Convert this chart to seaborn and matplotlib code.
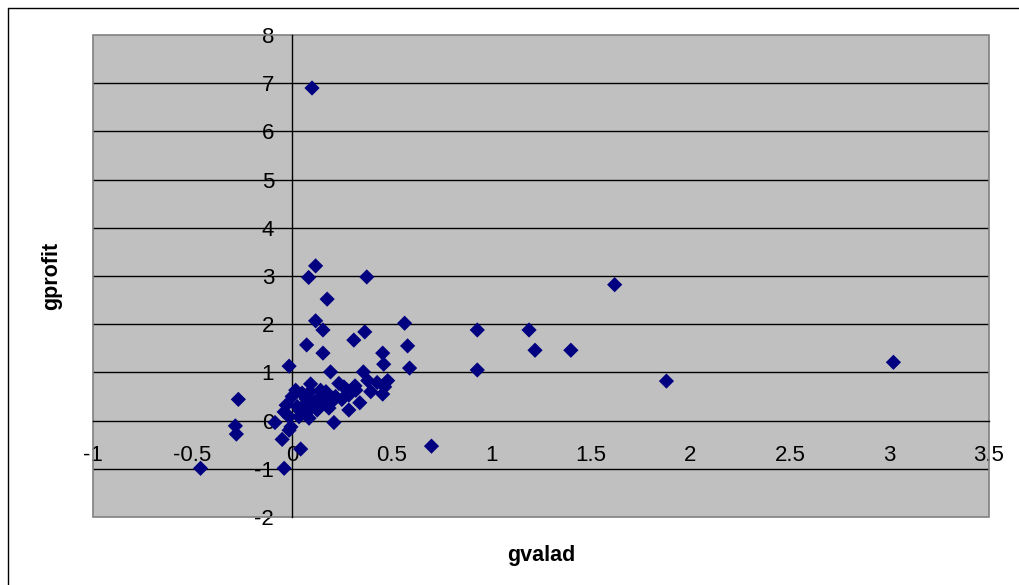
import numpy as np
import pandas as pd
import matplotlib
matplotlib.use("Agg")
import matplotlib.pyplot as plt
from matplotlib.patches import Rectangle
import seaborn as sns

# points (gvalad, gprofit)
gvalad = [
    -0.46, -0.27, -0.285, -0.28, -0.04, -0.015, 0.118, 0.083, 0.176, 0.118,
    0.155, 0.073, 0.155, 0.31, 0.193, 0.043, -0.05, -0.086, -0.015, 0.21,
    0.285, 0.093, 0.10, 0.375, 0.565, 0.365, 0.58, 0.455, 0.46, 0.59,
    0.93, 0.93, 1.19, 1.22, 1.40, 1.62, 1.88, 3.02, 0.70, 0.358,
    0.38, 0.427, 0.48, 0.316, 0.32, 0.395, 0.465, 0.455, 0.34, 0.235,
    0.26, 0.168, 0.218, 0.25, 0.185, 0.126, 0.10, 0.143, 0.05, 0.018,
    0.0, -0.03, -0.04, -0.015, 0.035, 0.076, 0.085, 0.026, 0.06, 0.15,
    0.20, 0.276, 0.285, -0.006, 0.11, 0.13, 0.07, 0.04, 0.17, 0.09,
]
gprofit = [
    -0.99, 0.44, -0.11, -0.28, -0.99, 1.13, 3.21, 2.97, 2.52, 2.07,
    1.88, 1.57, 1.40, 1.67, 1.01, -0.59, -0.39, -0.04, -0.20, -0.04,
    0.22, 0.76, 6.90, 2.98, 2.02, 1.84, 1.55, 1.40, 1.17, 1.09,
    1.88, 1.05, 1.88, 1.46, 1.46, 2.82, 0.82, 1.21, -0.53, 1.01,
    0.83, 0.79, 0.83, 0.72, 0.63, 0.60, 0.70, 0.55, 0.37, 0.77,
    0.70, 0.53, 0.50, 0.44, 0.26, 0.22, 0.39, 0.63, 0.57, 0.63,
    0.50, 0.32, 0.18, 0.08, 0.08, 0.18, 0.05, 0.29, 0.32, 0.39,
    0.39, 0.63, 0.53, -0.13, 0.30, 0.45, 0.45, 0.20, 0.60, 0.60,
]
x_ticks = [-1, -0.5, 0, 0.5, 1, 1.5, 2, 2.5, 3, 3.5]
x_tick_labels = ["-1", "-0.5", "0", "0.5", "1", "1.5", "2", "2.5", "3", "3.5"]
y_ticks = [-2, -1, 0, 1, 2, 3, 4, 5, 6, 7, 8]

df = pd.DataFrame({"gvalad": gvalad, "gprofit": gprofit})

sns.set_style("white")
plt.rcParams["font.family"] = ["Liberation Sans", "DejaVu Sans"]
plt.rcParams["axes.unicode_minus"] = False

fig = plt.figure(figsize=(10.19, 5.85), dpi=100)
ax = fig.add_axes([93 / 1019, 1 - 517 / 585, 896 / 1019, 482 / 585])
ax.set_facecolor("#c0c0c0")

# outer chart border (left and top visible in the crop)
fig.add_artist(plt.Line2D([8 / 1019, 8 / 1019], [0, 1 - 8 / 585], color="black", lw=1))
fig.add_artist(plt.Line2D([8 / 1019, 1], [1 - 8 / 585, 1 - 8 / 585], color="black", lw=1))

for yv in y_ticks:
    if yv not in (-2, 8, 0):
        ax.axhline(yv, color="black", lw=1, zorder=1)

sns.scatterplot(data=df, x="gvalad", y="gprofit", marker="D", color="#000080",
                edgecolor="none", s=60, ax=ax, zorder=3)

ax.set_xlim(-1, 3.5)
ax.set_ylim(-2, 8)
ax.set_xticks(x_ticks)
ax.set_xticklabels(x_tick_labels)
ax.set_yticks(y_ticks)

for side in ("top", "right"):
    ax.spines[side].set_visible(False)
for side in ("left", "bottom"):
    ax.spines[side].set_position(("data", 0))
    ax.spines[side].set_color("black")
    ax.spines[side].set_linewidth(1)
    ax.spines[side].set_zorder(2)
ax.add_patch(Rectangle((0, 0), 1, 1, transform=ax.transAxes, fill=False,
                       edgecolor="#808080", lw=1.2, zorder=2, clip_on=False))

ax.tick_params(axis="x", direction="out", length=4.5, width=1, color="black",
               labelsize=16, labelcolor="black", pad=13)
ax.tick_params(axis="y", direction="out", length=6.5, width=1, color="black",
               labelsize=16, labelcolor="black", pad=6.5)
ax.set_xlabel("")
ax.set_ylabel("")

fig.text(541 / 1019, 1 - 556 / 585, "gvalad", ha="center", va="center",
         fontsize=15.5, fontweight="bold", color="black")
fig.text(52 / 1019, 1 - 276 / 585, "gprofit", ha="center", va="center",
         fontsize=15.5, fontweight="bold", rotation=90, color="black")

fig.savefig("out.png", dpi=100, facecolor="white")
